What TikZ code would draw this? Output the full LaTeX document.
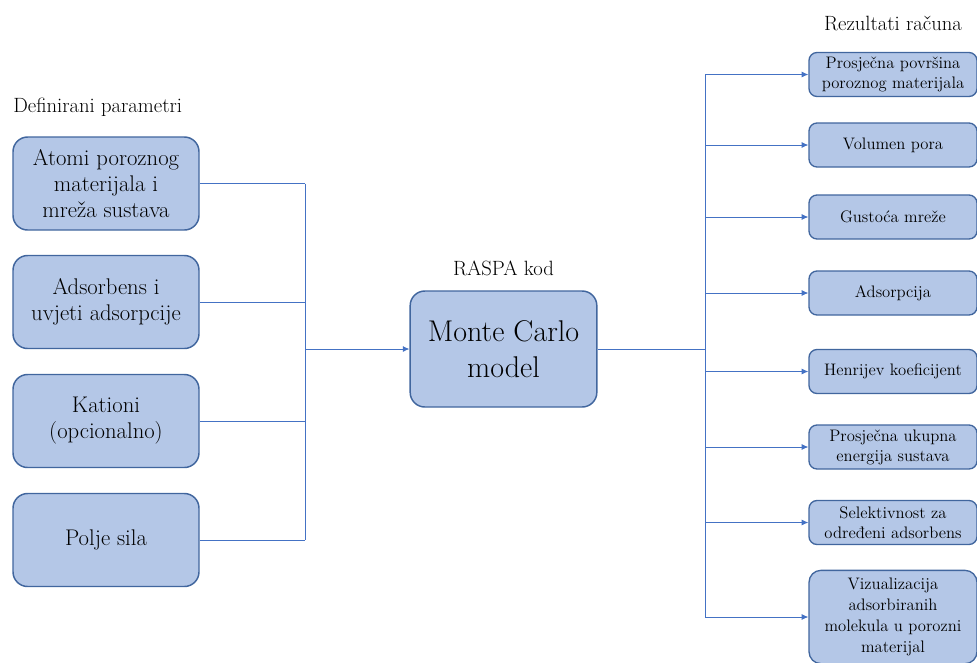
\documentclass[tikz,border=0pt]{standalone}
\usetikzlibrary{arrows.meta}
\definecolor{boxfill}{HTML}{B4C7E7}
\definecolor{boxline}{HTML}{41669E}
\definecolor{wire}{HTML}{4472C4}
\tikzset{
  /tikz/.cd,
  inputbox/.style={draw=boxline,fill=boxfill,line width=1.1pt,rounded corners=11pt,
    minimum width=139.5pt,minimum height=69.75pt,align=center,inner sep=0pt,
    font=\fontsize{17}{19.5}\selectfont},
  resultbox/.style={draw=boxline,fill=boxfill,line width=1pt,rounded corners=6pt,
    minimum width=126pt,minimum height=33pt,align=center,inner sep=0pt,
    font=\fontsize{12.5}{15}\selectfont},
  title/.style={inner sep=0pt,font=\fontsize{15.5}{18}\selectfont}
}

\begin{document}
\begin{tikzpicture}[x=0.75pt,y=-0.75pt,
                    wire/.style={draw=wire,line width=0.6pt},
                    feed/.style={wire,-{Latex[length=5pt,width=4.5pt]}}]
      \useasboundingbox (0,0) rectangle (977,662);

      % ulazni parametri
      \node[title,anchor=west] (deftitle) at (13,107) {Definirani parametri};
      \node[inputbox] (atomi) at (106,183.5) {Atomi poroznog\\materijala i\\mreža sustava};
      \node[inputbox] (adsorbens) at (106,302) {Adsorbens i\\uvjeti adsorpcije};
      \node[inputbox] (kationi) at (106,421) {Kationi\\(opcionalno)};
      \node[inputbox] (polje) at (106,540) {Polje sila};

      % model
      \node[title] (raspa) at (503.5,268) {RASPA kod};
      \node[inputbox,minimum width=140pt,minimum height=87pt,
            font=\fontsize{22.5}{27}\selectfont] (mc) at (503.5,349) {Monte Carlo\\model};

      % rezultati
      \node[title] (rezitle) at (893,23) {Rezultati računa};
      \node[resultbox] (povrsina) at (893,74.5) {Prosječna površina\\poroznog materijala};
      \node[resultbox] (volumen) at (893,145) {Volumen pora};
      \node[resultbox] (gustoca) at (893,217) {Gustoća mreže};
      \node[resultbox] (adsorpcija) at (893,293) {Adsorpcija};
      \node[resultbox] (henri) at (893,371.5) {Henrijev koeficijent};
      \node[resultbox] (energija) at (893,447) {Prosječna ukupna\\energija sustava};
      \node[resultbox] (selekt) at (893,522.5) {Selektivnost za\\određeni adsorbens};
      \node[resultbox,minimum height=70pt,rounded corners=9pt,
            font=\fontsize{12.5}{15.75}\selectfont] (vizual) at (893,617) {Vizualizacija\\adsorbiranih\\molekula u porozni\\materijal};

      % spojevi lijevo
      \coordinate (lefttop) at (305,183.5);
      \coordinate (leftbot) at (305,540);
      \coordinate (leftmid) at (305,349);
      \draw[wire] (lefttop) -- (leftbot);
      \foreach \n in {atomi,adsorbens,kationi,polje}
        \draw[wire] (\n.east) -- (\n.east -| lefttop);
      \draw[feed] (leftmid) -- (mc.west);

      % spojevi desno
      \coordinate (righttop) at (705,74.5);
      \coordinate (rightbot) at (705,617);
      \coordinate (rightmid) at (705,349);
      \draw[wire] (mc.east) -- (rightmid);
      \draw[wire] (righttop) -- (rightbot);
      \foreach \n in {povrsina,volumen,gustoca,adsorpcija,henri,energija,selekt,vizual}
        \draw[feed] (\n.west -| righttop) -- (\n.west);
    \end{tikzpicture}
\end{document}
